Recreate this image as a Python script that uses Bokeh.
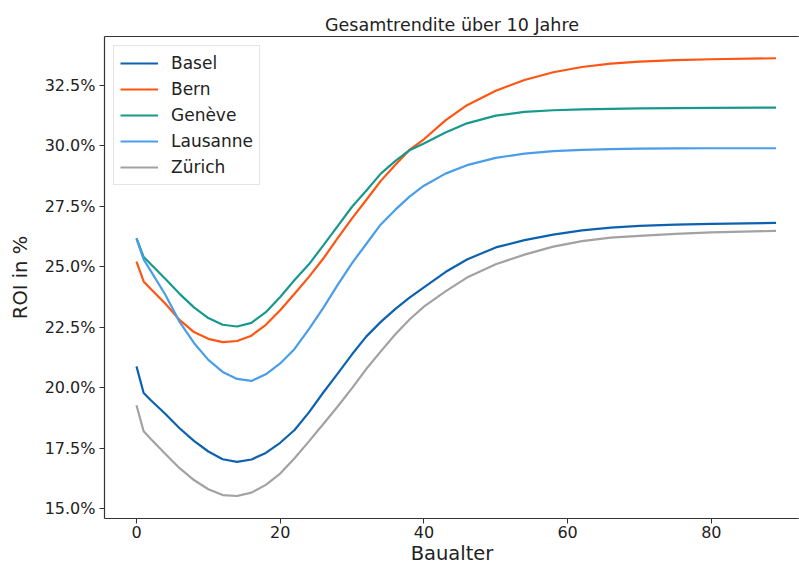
from bokeh.plotting import figure
from bokeh.models import (Legend, LegendItem, PrintfTickFormatter, FixedTicker, Range1d,
                          LinearAxis, Span)
from bokeh.embed import file_html
from bokeh.resources import INLINE

# ---- data ----
ages = [0, 1, 2, 4, 6, 8, 10, 12, 14, 16, 18, 20, 22, 24, 26, 28, 30, 32, 34, 36,
        38, 40, 43, 46, 50, 54, 58, 62, 66, 70, 75, 80, 89]

basel = [20.88, 19.78, 19.48, 18.92, 18.32, 17.8, 17.36, 17.04, 16.93, 17.03,
         17.3, 17.72, 18.25, 18.98, 19.8, 20.58, 21.38, 22.12, 22.72, 23.25,
         23.72, 24.15, 24.78, 25.3, 25.8, 26.1, 26.33, 26.5, 26.62, 26.69,
         26.74, 26.77, 26.81]
bern = [25.21, 24.39, 24.08, 23.48, 22.8, 22.3, 22.02, 21.88, 21.93, 22.15,
        22.6, 23.2, 23.88, 24.58, 25.34, 26.18, 27.0, 27.77, 28.55, 29.21,
        29.83, 30.27, 31.05, 31.68, 32.28, 32.72, 33.04, 33.26, 33.4, 33.48,
        33.54, 33.58, 33.62]
geneve = [26.18, 25.4, 25.1, 24.5, 23.88, 23.32, 22.88, 22.6, 22.53, 22.68,
          23.12, 23.75, 24.45, 25.1, 25.88, 26.68, 27.48, 28.15, 28.85, 29.37,
          29.82, 30.1, 30.55, 30.93, 31.25, 31.4, 31.47, 31.51, 31.53, 31.55,
          31.56, 31.57, 31.58]
lausanne = [26.15, 25.3, 24.82, 23.85, 22.72, 21.85, 21.15, 20.65, 20.36, 20.28,
            20.55, 21.0, 21.6, 22.42, 23.3, 24.25, 25.15, 25.95, 26.75, 27.35,
            27.9, 28.35, 28.85, 29.2, 29.5, 29.68, 29.78, 29.83, 29.86, 29.88,
            29.89, 29.9, 29.9]
zurich = [19.27, 18.2, 17.88, 17.27, 16.67, 16.18, 15.8, 15.56, 15.52, 15.66,
          15.98, 16.45, 17.08, 17.78, 18.5, 19.22, 19.98, 20.78, 21.5, 22.2,
          22.82, 23.35, 23.98, 24.55, 25.1, 25.5, 25.83, 26.06, 26.2, 26.28,
          26.36, 26.42, 26.48]

cities = ["Basel", "Bern", "Genève", "Lausanne", "Zürich"]
series = [basel, bern, geneve, lausanne, zurich]
colors = ["#0d62b0", "#ff5512", "#17998c", "#4a9de8", "#a2a2a2"]

x_ticks = [0, 20, 40, 60, 80]
y_ticks = [15.0, 17.5, 20.0, 22.5, 25.0, 27.5, 30.0, 32.5]

title_text = "Gesamtrendite über 10 Jahre"
x_label = "Baualter"
y_label = "ROI in %"

FONT = "DejaVu Sans"
TXT = "#222222"
SPINE = "#333333"

X_END = 92.27

p = figure(width=799, height=567, output_backend="svg", toolbar_location=None,
           x_range=Range1d(-4.45, X_END), y_range=Range1d(14.59, 34.52),
           min_border_left=104, min_border_right=0, min_border_top=36,
           min_border_bottom=48, title=title_text)

p.title.text_font = FONT
p.title.text_font_size = "17.5px"
p.title.text_font_style = "normal"
p.title.text_color = TXT
p.title.align = "center"
p.title.offset = 4
p.title.standoff = 4

p.outline_line_color = None
p.xgrid.visible = False
p.ygrid.visible = False
p.background_fill_color = "white"
p.border_fill_color = "white"

for ax in (p.xaxis[0], p.yaxis[0]):
    ax.axis_line_color = SPINE
    ax.axis_line_width = 1.2
    ax.major_tick_line_color = SPINE
    ax.major_tick_out = 5
    ax.major_tick_in = 0
    ax.minor_tick_line_color = None
    ax.major_label_text_font = FONT
    ax.major_label_text_font_size = "16px"
    ax.major_label_text_color = TXT
    ax.axis_label_text_font = FONT
    ax.axis_label_text_font_size = "19.5px"
    ax.axis_label_text_font_style = "normal"
    ax.axis_label_text_color = TXT

p.xaxis.ticker = FixedTicker(ticks=x_ticks)
p.yaxis.ticker = FixedTicker(ticks=y_ticks)
p.yaxis.formatter = PrintfTickFormatter(format="%.1f%%")
p.xaxis.axis_label = x_label
p.yaxis.axis_label = y_label
p.xaxis.major_label_standoff = 2
p.xaxis.axis_label_standoff = 1
p.yaxis.major_label_standoff = 4
p.yaxis.axis_label_standoff = 10

# top spine drawn as a bare axis above the frame
top_axis = LinearAxis(ticker=FixedTicker(ticks=[]), axis_line_color=SPINE,
                      axis_line_width=1.2, major_tick_line_color=None,
                      minor_tick_line_color=None, major_label_text_font_size="0px",
                      major_label_standoff=0, major_tick_out=0, major_tick_in=0)
p.add_layout(top_axis, "above")

items = []
for name, ys, c in zip(cities, series, colors):
    r = p.line(ages, ys, line_color=c, line_width=2.2)
    items.append(LegendItem(label=name, renderers=[r]))

# white mask over the right frame edge (reference has no right spine)
p.add_layout(Span(location=X_END, dimension="height", line_color="white",
                  line_width=4, level="overlay"))

legend = Legend(items=items, location="top_left")
legend.margin = 9
legend.padding = 6
legend.spacing = 4
legend.label_height = 22
legend.glyph_height = 22
legend.glyph_width = 38
legend.label_standoff = 13
legend.label_text_font = FONT
legend.label_text_font_size = "17px"
legend.label_text_color = TXT
legend.border_line_color = "#cccccc"
legend.border_line_width = 1
legend.background_fill_alpha = 0.8
p.add_layout(legend)

open("out.html", "w").write(file_html(p, INLINE))
